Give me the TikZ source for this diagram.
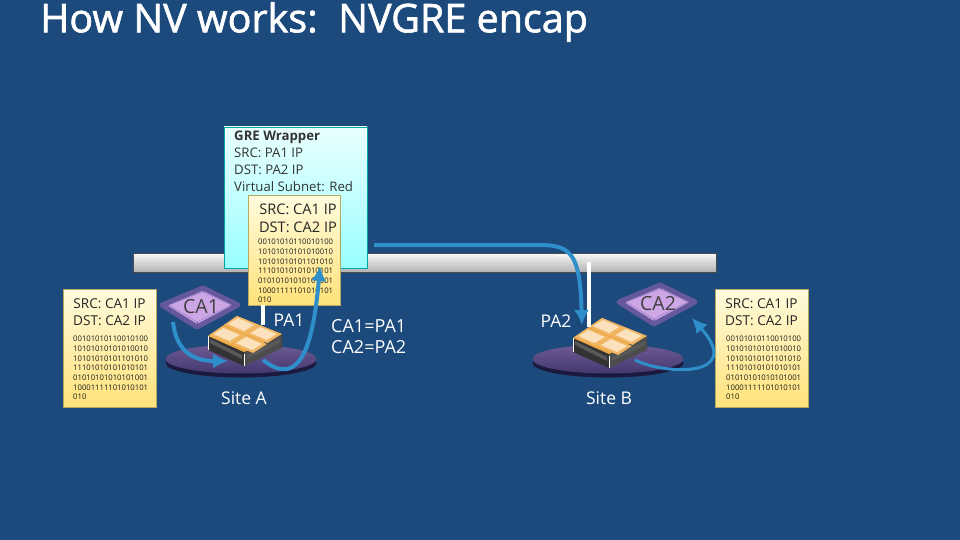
\documentclass[tikz,border=0pt]{standalone}
\usepackage{fontspec}
\setmainfont{Open Sans}
\newfontfamily\titlefont[FakeBold=1.6]{Open Sans}
\usetikzlibrary{arrows.meta, positioning, shapes.geometric, calc}

\definecolor{slidebg}{HTML}{1C4A7C}
\definecolor{flowblue}{HTML}{2F8FCB}
\definecolor{noteline}{HTML}{B8A860}
\definecolor{traypurple}{HTML}{CDA6E6}
\definecolor{trayhalo}{HTML}{66589C}
\definecolor{notetop}{HTML}{FFFBDD}
\definecolor{notelow}{HTML}{FFE27A}
\definecolor{discup}{HTML}{6E5A94}
\definecolor{disclow}{HTML}{43386F}
\definecolor{discdark}{HTML}{1B1A3E}
\definecolor{tileedge}{HTML}{EDA540}
\definecolor{tilecore}{HTML}{FBE2BC}

\newcommand{\payload}{00101010110010100\\10101010101010010\\10101010101101010\\11101010101010101\\01010101010101001\\10001111101010101\\010}
\newcommand{\innerhead}{SRC: CA1 IP\\DST: CA2 IP}

\tikzset{
  server/.pic={
    % Chassis faces
    \fill[black!80] (-29,20) -- (7,36) -- (7,50) -- (-29,34) -- cycle;
    \fill[black!70] (7,36) -- (45,18) -- (45,32) -- (7,50) -- cycle;
    \fill[gray!70!black] (-27,23) -- (5,39) -- (5,43) -- (-27,27) -- cycle;
    \fill[gray!70!black] (10,39) -- (43,23) -- (43,27) -- (10,43) -- cycle;
    \draw[white, thick] (-29,20) -- (-29,34);
    \draw[white, thick] (7,38) -- (7,50);
    % Tiles on the top face
    \fill[tileedge] (0,0) -- (45,18) -- (7,36) -- (-29,20) -- cycle;
    \foreach \i in {0,1} {
      \foreach \j in {0,1} {
        \begin{scope}[shift={(\i*22.5-\j*14.5,\i*9+\j*10)}]
          \fill[tileedge!70!tilecore] (0,0) -- (22,9) -- (8,18) -- (-13,9) -- cycle;
          \fill[tilecore] (1,2) -- (17,9) -- (7,15) -- (-9,8) -- cycle;
        \end{scope}
      }
    }
  },
  tray/.pic={
    \draw[trayhalo, line width=5pt, line join=round, fill=traypurple] (-20,17) -- (21,0) -- (56,17) -- (15,39) -- cycle;
    \draw[trayhalo!60!traypurple] (-13,17) -- (21,4) -- (49,17) -- (15,34) -- cycle;
    \draw[trayhalo] (21,4) -- (21,0) (15,34) -- (15,39) (-20,17) -- (-13,17) (56,17) -- (49,17);
  }
}

\begin{document}
\begin{tikzpicture}[x=1pt, y=-1pt]
        % Styles
        \tikzstyle{packet} = [draw=noteline, top color=notetop, bottom color=notelow,
                              minimum width=93pt, minimum height=118pt, inner sep=0pt]
        \tikzstyle{head_text} = [align=center, font=\fontsize{13.6}{17.5}\selectfont, text=black!85]
        \tikzstyle{bits_text} = [align=left, font=\fontsize{7.7}{9.7}\selectfont, text=black!90, inner sep=0pt]
        \tikzstyle{wrapper} = [draw=teal!70!cyan, top color=cyan!8!white, bottom color=cyan!40!white,
                               minimum width=143pt, minimum height=141pt, inner sep=0pt]
        \tikzstyle{backbone} = [draw=black!70, top color=white!95!gray, bottom color=black!30,
                                minimum width=583pt, minimum height=19pt, inner sep=0pt]
        \tikzstyle{disc} = [ellipse, minimum width=151pt, minimum height=29pt, inner sep=0pt]
        \tikzstyle{site_text} = [text=white, font=\fontsize{17.5}{21}\selectfont]
        \tikzstyle{tray_text} = [text=black!75, font=\fontsize{19.5}{23}\selectfont]
        \tikzstyle{flow} = [-{Latex[length=15pt, width=15pt]}, flowblue, line width=4pt]
        \tikzstyle{wire} = [white, line width=3.5pt]

        \useasboundingbox (0,0) rectangle (960,540);
        \fill[slidebg] (0,0) rectangle (960,540);

        % Title
        \node[anchor=west, text=white, font=\titlefont\fontsize{39.5}{46}\selectfont, inner sep=0pt] (title) at (40,22) {How NV works:~~NVGRE encap};

        % Provider backbone and the two sites
        \node[backbone] (bar) at (424.5,262.5) {};
        \node[disc, fill=discdark] (shadeA) at (241,363) {};
        \node[disc, top color=discup, bottom color=disclow] (discA) at (241,359) {};
        \node[disc, fill=discdark] (shadeB) at (608,363) {};
        \node[disc, top color=discup, bottom color=disclow] (discB) at (608,359) {};

        % Hosts and customer trays
        \pic at (237,316) {server};
        \pic at (602,318) {server};
        \pic at (182,288) {tray};
        \pic at (639,285) {tray};

        % GRE wrapper with the inner packet on top of it
        \node[wrapper] (gre) at (295.5,197.5) {};
        \node[anchor=north west, align=left, inner sep=0pt, text=black!80, font=\fontsize{13.2}{16.8}\selectfont] (greText) at (234,131) {\textbf{GRE Wrapper}\\SRC: PA1 IP\\DST: PA2 IP\\Virtual Subnet: Red};

        \node[packet, minimum width=92pt, minimum height=110pt] (mid) at (294,250) {};
        \node[head_text, anchor=north, xshift=4pt, font=\fontsize{14.6}{18}\selectfont] (midHead) at ([yshift=-6pt]mid.north) {\innerhead};
        \node[bits_text, anchor=north west] (midBits) at (258,239) {\payload};

        \node[packet] (left) at (109.5,348) {};
        \node[head_text, anchor=north] (leftHead) at ([yshift=-6pt]left.north) {\innerhead};
        \node[bits_text, anchor=north west] (leftBits) at (73,336) {\payload};

        \node[packet] (right) at (761.5,348) {};
        \node[head_text, anchor=north] (rightHead) at ([yshift=-6pt]right.north) {\innerhead};
        \node[bits_text, anchor=north west] (rightBits) at (726,336) {\payload};

        % Free ends of the connectors
        \coordinate (pa1top) at (263,305);
        \coordinate (pa1low) at (263,325);
        \coordinate (pa2top) at (589,262);
        \coordinate (pa2low) at (589,327);
        \coordinate (flowAs) at (173,322);
        \coordinate (flowAe) at (228,361);
        \coordinate (flowBs) at (263,360);
        \coordinate (flowBe) at (320,266);
        \coordinate (flowCs) at (374,245);
        \coordinate (flowCe) at (582,325);
        \coordinate (flowDs) at (635,360);
        \coordinate (flowDe) at (692,318);

        % Links of the hosts to the backbone
        \draw[wire] (pa1top) -- (pa1low);
        \draw[wire] (pa2top) -- (pa2low);

        % Packet path
        \draw[flow] (flowAs) .. controls (176,350) and (192,361) .. (flowAe);
        \draw[flow] (flowBs) .. controls (295,385) and (312,360) .. (flowBe);
        \draw[flow] (flowCs) -- (540,245) .. controls (572,245) and (580,255) .. (flowCe);
        \draw[flow, line width=3pt] (flowDs) .. controls (665,375) and (745,378) .. (flowDe);

        % Labels
        \node[tray_text] (ca1) at (201,307) {CA1};
        \node[tray_text] (ca2) at (658,304) {CA2};
        \node[site_text] (pa1) at (289,320) {PA1};
        \node[site_text] (pa2) at (556,321) {PA2};
        \node[site_text, anchor=north west, align=left, inner sep=0pt, font=\fontsize{18}{21}\selectfont] (map) at (331,319) {CA1=PA1\\CA2=PA2};
        \node[site_text] (siteA) at (244,398) {Site A};
        \node[site_text] (siteB) at (609,398) {Site B};
    \end{tikzpicture}
\end{document}
